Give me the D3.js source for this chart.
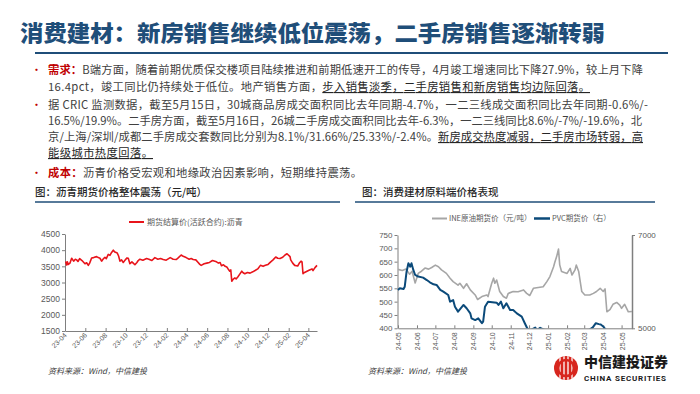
<!DOCTYPE html>
<html>
<head>
<meta charset="utf-8">
<script src="https://cdn.jsdelivr.net/npm/d3@7"></script>
<style>
  body { margin: 0; background: #fff; }
  svg { display: block; font-family: "Noto Sans CJK SC", "Noto Sans", sans-serif; }
</style>
</head>
<body>
<svg id="chart"></svg>
<script>
// asphalt futures settlement price (yuan/ton)
const asphalt = [
  ["2023-04-03", 3650], ["2023-04-06", 3540], ["2023-04-08", 3640], ["2023-04-11", 3560],
  ["2023-04-16", 3600], ["2023-04-21", 3750], ["2023-04-27", 3660], ["2023-05-02", 3720],
  ["2023-05-06", 3700], ["2023-05-10", 3650], ["2023-05-15", 3740], ["2023-05-22", 3680],
  ["2023-05-31", 3580], ["2023-06-05", 3610], ["2023-06-10", 3530], ["2023-06-14", 3600],
  ["2023-06-20", 3760], ["2023-06-26", 3770], ["2023-07-05", 3800], ["2023-07-10", 3770],
  ["2023-07-15", 3750], ["2023-07-20", 3660], ["2023-07-25", 3730], ["2023-07-30", 3780],
  ["2023-08-03", 3740], ["2023-08-09", 3870], ["2023-08-14", 3840], ["2023-08-19", 3930],
  ["2023-08-24", 4000], ["2023-08-29", 3940], ["2023-09-05", 3910], ["2023-09-09", 3820],
  ["2023-09-13", 3660], ["2023-09-18", 3700], ["2023-09-23", 3620], ["2023-09-29", 3700],
  ["2023-10-04", 3760], ["2023-10-08", 3750], ["2023-10-13", 3580], ["2023-10-19", 3640],
  ["2023-10-23", 3600], ["2023-10-28", 3550], ["2023-11-03", 3620], ["2023-11-07", 3680],
  ["2023-11-12", 3720], ["2023-11-21", 3690], ["2023-12-02", 3740], ["2023-12-09", 3720],
  ["2023-12-18", 3680], ["2023-12-27", 3770], ["2024-01-05", 3720], ["2024-01-13", 3740],
  ["2024-01-21", 3710], ["2024-01-30", 3690], ["2024-02-05", 3730], ["2024-02-11", 3770],
  ["2024-02-20", 3720], ["2024-02-29", 3710], ["2024-03-06", 3760], ["2024-03-15", 3850],
  ["2024-03-21", 3810], ["2024-03-30", 3770], ["2024-04-08", 3720], ["2024-04-14", 3740],
  ["2024-04-20", 3710], ["2024-04-28", 3700], ["2024-05-05", 3620], ["2024-05-10", 3560],
  ["2024-05-14", 3530], ["2024-05-23", 3580], ["2024-05-31", 3600], ["2024-06-08", 3620],
  ["2024-06-17", 3680], ["2024-06-29", 3640], ["2024-07-05", 3600], ["2024-07-10", 3620],
  ["2024-07-14", 3520], ["2024-07-20", 3550], ["2024-07-25", 3500], ["2024-07-30", 3480],
  ["2024-08-03", 3420], ["2024-08-08", 3350], ["2024-08-11", 3390], ["2024-08-14", 3040],
  ["2024-08-18", 3100], ["2024-08-23", 3140], ["2024-08-27", 3110], ["2024-09-01", 3170],
  ["2024-09-07", 3260], ["2024-09-13", 3350], ["2024-09-17", 3300], ["2024-09-22", 3270],
  ["2024-09-30", 3310], ["2024-10-08", 3290], ["2024-10-16", 3330], ["2024-10-23", 3370],
  ["2024-10-31", 3420], ["2024-11-08", 3530], ["2024-11-16", 3500], ["2024-11-23", 3530],
  ["2024-12-01", 3560], ["2024-12-09", 3640], ["2024-12-16", 3700], ["2024-12-24", 3790],
  ["2024-12-30", 3750], ["2025-01-06", 3740], ["2025-01-14", 3780], ["2025-01-21", 3850],
  ["2025-01-27", 3890], ["2025-02-05", 3800], ["2025-02-07", 3700], ["2025-02-13", 3600],
  ["2025-02-19", 3530], ["2025-02-24", 3520], ["2025-02-28", 3510], ["2025-03-05", 3600],
  ["2025-03-10", 3660], ["2025-03-13", 3640], ["2025-03-16", 3270], ["2025-03-19", 3300],
  ["2025-03-28", 3350], ["2025-04-03", 3380], ["2025-04-12", 3420], ["2025-04-15", 3370],
  ["2025-04-21", 3460], ["2025-04-27", 3530]
];
const asphaltTicks = [1500, 2000, 2500, 3000, 3500, 4000, 4500];
const asphaltMonths = ["2023-04", "2023-06", "2023-08", "2023-10", "2023-12", "2024-02", "2024-04",
  "2024-06", "2024-08", "2024-10", "2024-12", "2025-02", "2025-04"];

// INE crude oil futures (left axis)
const crude = [
  ["2024-05-01", 621], ["2024-05-08", 617], ["2024-05-14", 622], ["2024-05-20", 603],
  ["2024-05-24", 614], ["2024-05-29", 570], ["2024-06-03", 606], ["2024-06-07", 612],
  ["2024-06-14", 626], ["2024-06-20", 622], ["2024-06-25", 628], ["2024-07-01", 637],
  ["2024-07-06", 631], ["2024-07-11", 619], ["2024-07-19", 606], ["2024-07-25", 588],
  ["2024-07-30", 575], ["2024-08-07", 562], ["2024-08-10", 569], ["2024-08-16", 550],
  ["2024-08-21", 567], ["2024-08-27", 544], ["2024-09-04", 525], ["2024-09-08", 508],
  ["2024-09-15", 519], ["2024-09-23", 525], ["2024-09-25", 519], ["2024-10-01", 569],
  ["2024-10-04", 588], ["2024-10-06", 569], ["2024-10-09", 581], ["2024-10-14", 538],
  ["2024-10-20", 519], ["2024-10-25", 513], ["2024-10-28", 531], ["2024-11-05", 538],
  ["2024-11-13", 537], ["2024-11-22", 544], ["2024-11-27", 531], ["2024-12-02", 523],
  ["2024-12-08", 550], ["2024-12-16", 553], ["2024-12-24", 556], ["2024-12-30", 575],
  ["2025-01-04", 594], ["2025-01-10", 631], ["2025-01-12", 648], ["2025-01-15", 669],
  ["2025-01-18", 697], ["2025-01-20", 638], ["2025-01-23", 613], ["2025-02-01", 606],
  ["2025-02-06", 625], ["2025-02-09", 600], ["2025-02-14", 619], ["2025-02-16", 637],
  ["2025-02-20", 613], ["2025-02-25", 538], ["2025-03-02", 525], ["2025-03-10", 525],
  ["2025-03-16", 531], ["2025-03-21", 538], ["2025-03-27", 550], ["2025-04-01", 538],
  ["2025-04-04", 548], ["2025-04-07", 462], ["2025-04-12", 470], ["2025-04-17", 490],
  ["2025-04-23", 497], ["2025-04-28", 487], ["2025-05-01", 475], ["2025-05-06", 490],
  ["2025-05-12", 462], ["2025-05-18", 463]
];
const crudeTicks = [400, 450, 500, 550, 600, 650, 700, 750];

// PVC futures (yuan/ton, right axis)
const pvc = [
  ["2024-05-01", 5823], ["2024-05-04", 5857], ["2024-05-10", 5843], ["2024-05-12", 5891],
  ["2024-05-15", 6214], ["2024-05-18", 6394], ["2024-05-21", 6320], ["2024-05-23", 6394],
  ["2024-05-26", 6251], ["2024-05-29", 6143], ["2024-06-03", 6109], ["2024-06-11", 6086],
  ["2024-06-17", 6034], ["2024-06-22", 5986], ["2024-06-28", 5943], ["2024-07-03", 5929],
  ["2024-07-09", 5823], ["2024-07-14", 5786], ["2024-07-22", 5714], ["2024-07-25", 5571],
  ["2024-07-30", 5606], ["2024-08-02", 5463], ["2024-08-07", 5357], ["2024-08-16", 5500],
  ["2024-08-21", 5429], ["2024-08-27", 5320], ["2024-08-29", 5214], ["2024-09-04", 5177],
  ["2024-09-09", 5214], ["2024-09-15", 5109], ["2024-09-17", 5143], ["2024-09-20", 5463],
  ["2024-09-25", 5571], ["2024-10-09", 5549], ["2024-10-12", 5500], ["2024-10-16", 5571],
  ["2024-10-20", 5429], ["2024-10-25", 5537], ["2024-10-31", 5394], ["2024-11-05", 5394],
  ["2024-11-11", 5320], ["2024-11-19", 5251], ["2024-11-24", 5109], ["2024-11-28", 5000],
  ["2024-12-02", 4950], ["2024-12-11", 5015], ["2024-12-14", 4960], ["2024-12-19", 5010],
  ["2024-12-27", 4960], ["2025-01-08", 4930], ["2025-01-20", 4960], ["2025-02-05", 4910],
  ["2025-02-18", 4950], ["2025-03-05", 4930], ["2025-03-15", 5020], ["2025-03-20", 5110],
  ["2025-03-25", 5090], ["2025-03-28", 5080], ["2025-04-01", 5040], ["2025-04-04", 4990],
  ["2025-04-10", 4900], ["2025-04-25", 4850], ["2025-05-16", 4820]
];
const pvcTicks = [5000, 7000];
const crudeMonths = ["2024-05", "2024-06", "2024-07", "2024-08", "2024-09", "2024-10", "2024-11",
  "2024-12", "2025-01", "2025-02", "2025-03", "2025-04", "2025-05"];

const notes = [
  { bullet: true, segs: [["key", "需求："], ["txt", "B端方面，随着前期优质保交楼项目陆续推进和前期低速开工的传导，4月竣工增速同比下降27.9%，较上月下降"]] },
  { segs: [["txt", "16.4pct，竣工同比仍持续处于低位。地产销售方面，"], ["ul", "步入销售淡季，二手房销售和新房销售均边际回落。"]] },
  { bullet: true, segs: [["txt", "据 CRIC 监测数据，截至5月15日，30城商品房成交面积同比去年同期-4.7%，一二三线成交面积同比去年同期-0.6%/-"]] },
  { segs: [["txt", "16.5%/19.9%。二手房方面，截至5月16日，26城二手房成交面积同比去年-6.3%，一二三线同比8.6%/-7%/-19.6%，北"]] },
  { segs: [["txt", "京/上海/深圳/成都二手房成交套数同比分别为8.1%/31.66%/25.33%/-2.4%。"], ["ul", "新房成交热度减弱，二手房市场转弱，高"]] },
  { segs: [["ul", "能级城市热度回落。"]] },
  { bullet: true, segs: [["key", "成本："], ["txt", "沥青价格受宏观和地缘政治因素影响，短期维持震荡。"]] }
];

const w = 700;
const h = 394;
const parse = d3.timeParse("%Y-%m-%d");
const parseMonth = d3.timeParse("%Y-%m");
const navy = "#1f4e79";
const axisGrey = "#7f7f7f";
const labelGrey = "#595959";

const svg = d3.select("#chart").attr("width", w).attr("height", h);
svg.append("rect").attr("width", w).attr("height", h).attr("fill", "#fff");

// title
svg.append("text")
  .attr("x", 20).attr("y", 41)
  .attr("font-size", 22).attr("font-weight", 900)
  .attr("fill", navy)
  .attr("textLength", 585).attr("lengthAdjust", "spacingAndGlyphs")
  .text("消费建材：新房销售继续低位震荡，二手房销售逐渐转弱");
svg.append("line")
  .attr("x1", 35).attr("x2", 668).attr("y1", 53).attr("y2", 53)
  .attr("stroke", navy).attr("stroke-width", 2);

// bullet text
const lineY = [74, 91, 109, 125, 141, 157, 177];
const lineW = [595, 542, 600, 594, 595, 105, 314];
notes.forEach((n, i) => {
  if (n.bullet) {
    svg.append("text").attr("x", 31).attr("y", lineY[i])
      .attr("font-size", 11).attr("fill", "#c00000").text("•");
  }
  const t = svg.append("text")
    .attr("x", 48).attr("y", lineY[i])
    .attr("font-size", 11.3)
    .attr("fill", "#404040")
    .attr("textLength", lineW[i])
    .attr("lengthAdjust", "spacing");
  n.segs.forEach(([kind, s]) => {
    const sp = t.append("tspan").text(s);
    if (kind === "key") sp.attr("fill", "#c00000").attr("font-weight", 700);
    if (kind === "ul") sp.attr("fill", "#262626").style("text-decoration", "underline");
  });
});

// chart captions
svg.append("text").attr("x", 35).attr("y", 196).attr("font-size", 10.5)
  .attr("font-weight", 500).attr("fill", "#262626").text("图：沥青期货价格整体震荡（元/吨）");
svg.append("line").attr("x1", 35).attr("x2", 340).attr("y1", 202).attr("y2", 202)
  .attr("stroke", navy).attr("stroke-width", 1.5);
svg.append("text").attr("x", 362).attr("y", 196).attr("font-size", 10.5)
  .attr("font-weight", 500).attr("fill", "#262626").text("图：消费建材原料端价格表现");
svg.append("line").attr("x1", 355).attr("x2", 655).attr("y1", 202).attr("y2", 202)
  .attr("stroke", navy).attr("stroke-width", 1.5);

function styleAxis(g) {
  g.select(".domain").attr("stroke", axisGrey);
  g.selectAll(".tick line").attr("stroke", axisGrey);
  g.selectAll(".tick text").attr("fill", labelGrey).attr("font-family", "Liberation Sans, Arial, sans-serif");
}

// ---- left chart: asphalt ----
const lx = d3.scaleTime().domain([parse("2023-04-01"), parse("2025-04-27")]).range([65, 317]);
const ly = d3.scaleLinear().domain([1500, 4500]).range([331, 234]);

svg.append("g")
  .attr("transform", "translate(65,0)")
  .call(d3.axisLeft(ly).tickValues(asphaltTicks).tickFormat(d3.format("d"))
    .tickSize(3).tickPadding(2).tickSizeOuter(0))
  .call(styleAxis)
  .call((g) => g.selectAll("text").attr("font-size", 8.5));

const lxAxis = svg.append("g")
  .attr("transform", "translate(0,331)")
  .call(d3.axisBottom(lx)
    .tickValues(asphaltMonths.map(parseMonth))
    .tickFormat(d3.timeFormat("%y-%m"))
    .tickSize(-3).tickSizeOuter(0))
  .call(styleAxis);
lxAxis.selectAll(".tick text")
  .attr("font-size", 7)
  .attr("text-anchor", "end")
  .attr("transform", "translate(0,3) rotate(-45)")
  .attr("x", 0).attr("y", 0).attr("dy", "0.35em");

svg.append("path")
  .datum(asphalt)
  .attr("fill", "none")
  .attr("stroke", "#e8141b")
  .attr("stroke-width", 1.6)
  .attr("stroke-linejoin", "round")
  .attr("d", d3.line().x((d) => lx(parse(d[0]))).y((d) => ly(d[1])));

const legL = svg.append("g").attr("transform", "translate(129,222)");
legL.append("line").attr("x1", 0).attr("x2", 15).attr("stroke", "#e8141b").attr("stroke-width", 2);
legL.append("text").attr("x", 18).attr("dy", "0.35em").attr("font-size", 8)
  .attr("fill", labelGrey).text("期货结算价(活跃合约):沥青");

// ---- right chart: crude & PVC ----
const rx = d3.scaleTime().domain([parse("2024-05-01"), parse("2025-05-18")]).range([398, 632]);
const ry = d3.scaleLinear().domain([400, 750]).range([328.3, 235]);
const ry2 = d3.scaleLinear().domain([5000, 7000]).range([328.3, 235]);

svg.append("defs").append("clipPath").attr("id", "rclip")
  .append("rect").attr("x", 397).attr("y", 230).attr("width", 236).attr("height", 98.3);

svg.append("g")
  .attr("transform", "translate(397.5,0)")
  .call(d3.axisLeft(ry).tickValues(crudeTicks).tickFormat(d3.format("d"))
    .tickSize(3).tickPadding(2).tickSizeOuter(0))
  .call(styleAxis)
  .call((g) => g.selectAll("text").attr("font-size", 8));

svg.append("g")
  .attr("transform", "translate(632,0)")
  .call(d3.axisRight(ry2).tickValues(pvcTicks).tickFormat(d3.format("d"))
    .tickSize(3).tickPadding(3).tickSizeOuter(0))
  .call(styleAxis)
  .call((g) => g.select(".domain").attr("stroke-width", 1.5))
  .call((g) => g.selectAll("text").attr("font-size", 8));

const rxAxis = svg.append("g")
  .attr("transform", "translate(0,328.3)")
  .call(d3.axisBottom(rx)
    .tickValues(crudeMonths.map(parseMonth))
    .tickFormat(d3.timeFormat("%y-%m"))
    .tickSize(-3).tickSizeOuter(0))
  .call(styleAxis);
rxAxis.selectAll(".tick text")
  .attr("font-size", 7)
  .attr("text-anchor", "end")
  .attr("transform", "translate(0,4) rotate(-90)")
  .attr("x", 0).attr("y", 0).attr("dy", "0.35em");

const plot = svg.append("g").attr("clip-path", "url(#rclip)");
plot.append("path")
  .datum(crude)
  .attr("fill", "none")
  .attr("stroke", "#a6a6a6")
  .attr("stroke-width", 1.6)
  .attr("stroke-linejoin", "round")
  .attr("d", d3.line().x((d) => rx(parse(d[0]))).y((d) => ry(d[1])));
plot.append("path")
  .datum(pvc)
  .attr("fill", "none")
  .attr("stroke", "#0b4a7a")
  .attr("stroke-width", 2)
  .attr("stroke-linejoin", "round")
  .attr("d", d3.line().x((d) => rx(parse(d[0]))).y((d) => ry2(d[1])));

const legR = svg.append("g").attr("transform", "translate(432,218.5)");
legR.append("line").attr("x1", 0).attr("x2", 15).attr("stroke", "#a6a6a6").attr("stroke-width", 2);
legR.append("text").attr("x", 17).attr("dy", "0.35em").attr("font-size", 7.5)
  .attr("fill", labelGrey).text("INE原油期货价（元/吨）");
legR.append("line").attr("x1", 102).attr("x2", 118).attr("stroke", "#0b4a7a").attr("stroke-width", 2.5);
legR.append("text").attr("x", 120).attr("dy", "0.35em").attr("font-size", 7.5)
  .attr("fill", labelGrey).text("PVC期货价（右）");

// sources
[48, 368].forEach((x) => {
  svg.append("text").attr("x", x).attr("y", 374).attr("font-size", 8)
    .attr("font-style", "italic").attr("fill", "#404040").text("资料来源：Wind，中信建投");
});

// logo
const logo = svg.append("g").attr("transform", "translate(566,368)");
logo.append("clipPath").attr("id", "logoclip").append("circle").attr("r", 12);
logo.append("circle").attr("r", 12).attr("fill", "#d7261e");
const stripes = logo.append("g").attr("clip-path", "url(#logoclip)");
[-6, -2, 2, 6].forEach((x) => {
  stripes.append("line").attr("x1", x).attr("x2", x).attr("y1", -12).attr("y2", 12)
    .attr("stroke", "#fff").attr("stroke-width", 1.3);
});
logo.append("circle").attr("r", 8).attr("fill", "none").attr("stroke", "#d7261e").attr("stroke-width", 2.5);
svg.append("text").attr("x", 584).attr("y", 367).attr("font-size", 14).attr("font-weight", 900)
  .attr("fill", "#1a1a1a").text("中信建投证券");
svg.append("text").attr("x", 584).attr("y", 381).attr("font-size", 8).attr("font-weight", 700)
  .attr("fill", "#1a1a1a").attr("textLength", 82).attr("font-family", "Roboto, Arial, sans-serif")
  .text("CHINA SECURITIES");
</script>
</body>
</html>
